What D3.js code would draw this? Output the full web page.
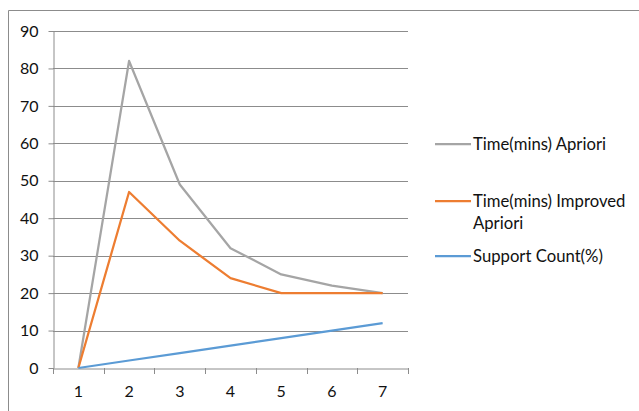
<!DOCTYPE html>
<html><head><meta charset="utf-8">
<script src="https://cdn.jsdelivr.net/npm/d3@7"></script>
<style>body{margin:0;background:#fff;} svg{display:block;}</style>
</head><body>
<svg id="c" width="639" height="411"></svg>
<script>
const categories = ["1","2","3","4","5","6","7"];
const apriori = [0, 82, 49, 32, 25, 22, 20];
const improved = [0, 47, 34, 24, 20, 20, 20];
const support = [0, 2, 4, 6, 8, 10, 12];
const yTicks = [0,10,20,30,40,50,60,70,80,90];
const seriesNames = ["Time(mins) Apriori", "Time(mins) Improved Apriori", "Support Count(%)"];
const seriesColors = ["#A5A5A5", "#ED7D31", "#5B9BD5"];

(function(){
const svg = d3.select("#c");
const font = "Lato, 'Open Sans', sans-serif";
const mLeft = 53, mRight = 408, mTop = 31, mBottom = 368;

// frame
svg.append("line").attr("x1",8.5).attr("x2",639).attr("y1",10.5).attr("y2",10.5).attr("stroke","#8c8c8c");
svg.append("line").attr("x1",8.5).attr("x2",8.5).attr("y1",10.5).attr("y2",411).attr("stroke","#8c8c8c");

const x = d3.scaleBand().domain(categories).range([mLeft, mRight]);
const y = d3.scaleLinear().domain([0, 90]).range([mBottom, mTop]);

// gridlines
svg.append("g").selectAll("line").data(yTicks.filter(d=>d>0)).join("line")
  .attr("x1",mLeft).attr("x2",mRight)
  .attr("y1",d=>Math.round(y(d))+0.5).attr("y2",d=>Math.round(y(d))+0.5)
  .attr("stroke","#8c8c8c").attr("stroke-width",1);

// y axis
const yAxis = svg.append("g").attr("transform",`translate(${mLeft+0.5},0)`)
  .call(d3.axisLeft(y).tickValues(yTicks).tickSize(5).tickPadding(10).tickSizeOuter(0));
yAxis.select(".domain").attr("stroke","#8c8c8c");
yAxis.selectAll(".tick line").attr("stroke","#8c8c8c");
yAxis.selectAll(".tick text").attr("font-family",font).attr("font-size",16).attr("fill","#111");

// x axis
const xAxis = svg.append("g").attr("transform",`translate(0,${mBottom+0.5})`)
  .call(d3.axisBottom(x).tickSize(0).tickPadding(17));
xAxis.select(".domain").attr("stroke","#8c8c8c");
xAxis.selectAll(".tick text").attr("font-family",font).attr("font-size",16).attr("fill","#111");
// category boundary ticks
const bounds = categories.map(c=>x(c)).concat([x(categories[categories.length-1])+x.bandwidth()]);
svg.append("g").selectAll("line").data(bounds).join("line")
  .attr("x1",d=>Math.round(d)+0.5).attr("x2",d=>Math.round(d)+0.5)
  .attr("y1",mBottom).attr("y2",mBottom+6).attr("stroke","#8c8c8c");

// lines
const line = d3.line().x((d,i)=>x(categories[i])+x.bandwidth()/2).y(d=>y(d));
const allSeries = [apriori, improved, support];
allSeries.forEach((s,i)=>{
  svg.append("path").datum(s).attr("d",line).attr("fill","none")
    .attr("stroke",seriesColors[i]).attr("stroke-width",2.25).attr("stroke-linejoin","round");
});

// legend
const legendY = [144, 201, 256];
const lg = svg.append("g");
seriesNames.forEach((n,i)=>{
  lg.append("line").attr("x1",435).attr("x2",471).attr("y1",legendY[i]).attr("y2",legendY[i])
    .attr("stroke",seriesColors[i]).attr("stroke-width",2.25);
  const t = lg.append("text").attr("x",473).attr("y",legendY[i]).attr("dy","0.35em")
    .attr("font-family",font).attr("font-size",16.7).attr("fill","#111");
  if (i===1) {
    t.append("tspan").attr("x",473).text("Time(mins) Improved");
    t.append("tspan").attr("x",473).attr("dy","1.35em").text("Apriori");
  } else t.text(n);
});
})();
</script>
</body></html>
